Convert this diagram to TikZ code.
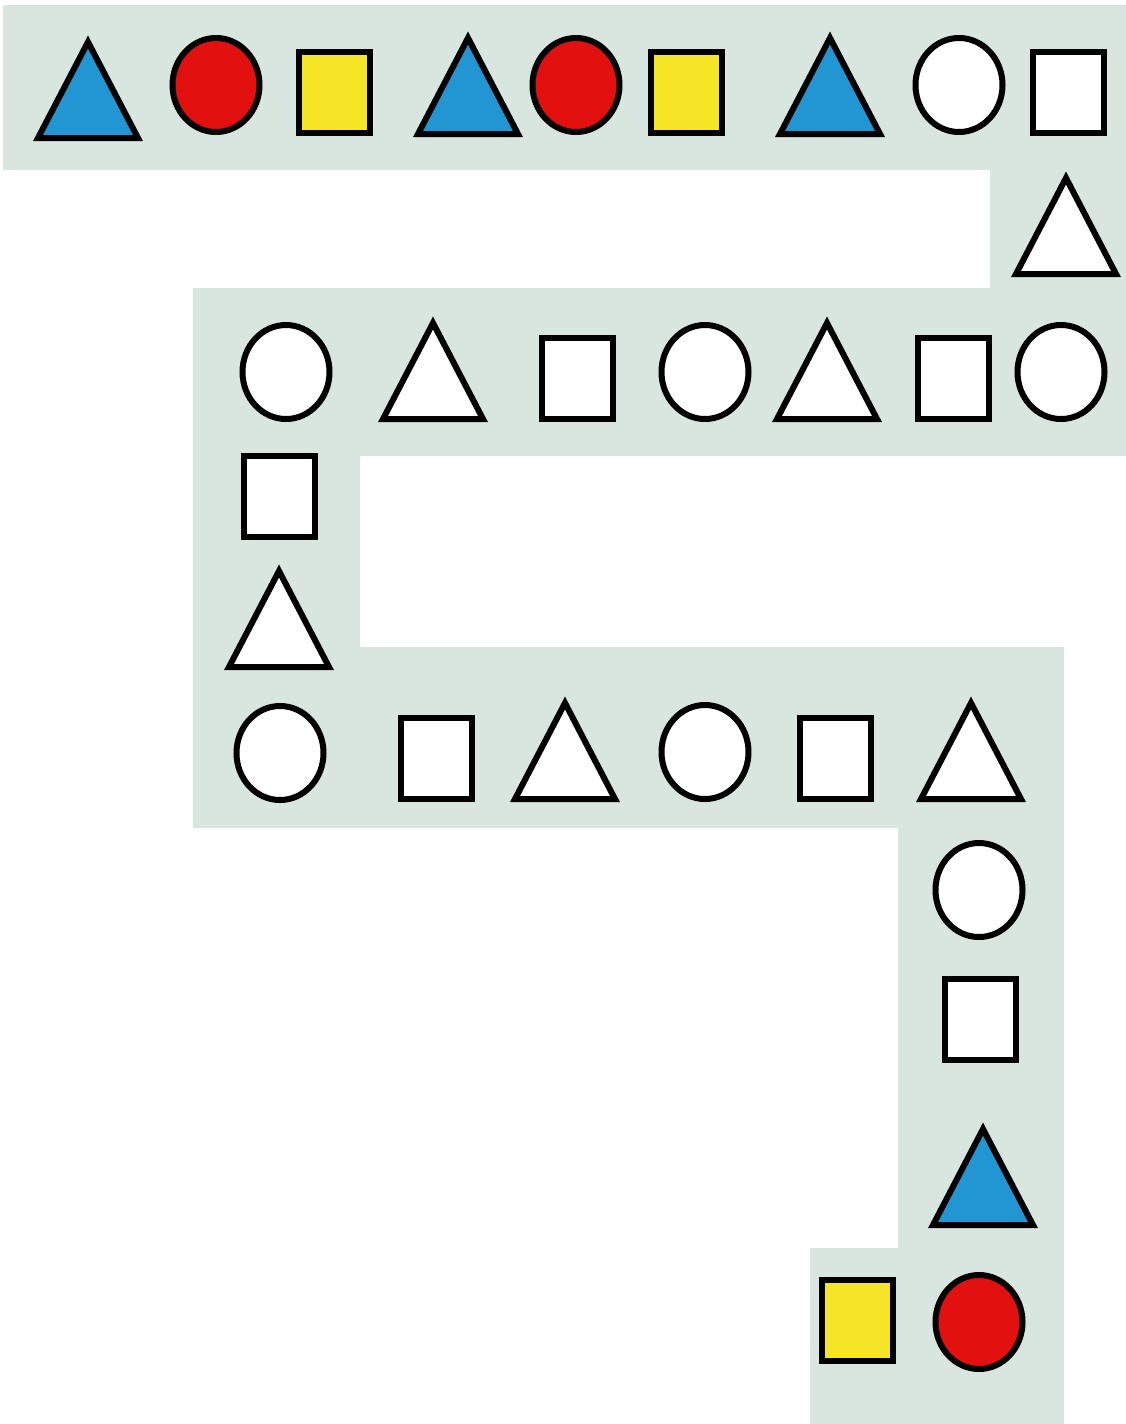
\documentclass[tikz,border=0pt]{standalone}
\usepackage{tikz}
\tikzset{
	band/.style={fill=bandGray, draw=none},
	outline/.style={draw=black, line width=6pt, line join=miter},
}

\begin{document}
\begin{tikzpicture}[x=1pt, y=-1pt]
		
		% ---- Colors ----
		\definecolor{bandGray}{RGB}{216,230,223}
		\definecolor{blueT}{RGB}{33,150,211}
		\definecolor{redC}{RGB}{226,16,14}
		\definecolor{yellowS}{RGB}{246,228,38}
		
		\useasboundingbox (0,0) rectangle (1126,1424);
		
		% ---- The winding band ----
		\fill[band] (3,5) -- (1126,5) -- (1126,456) -- (360,456) -- (360,647)
		-- (1064,647) -- (1064,1424) -- (810,1424) -- (810,1248) -- (898,1248)
		-- (898,828) -- (193,828) -- (193,288) -- (990,288) -- (990,170)
		-- (3,170) -- cycle;
		
		% ---- Triangles ----
		\draw[outline, fill=blueT]  (38,138)   -- ++(50,-96) -- ++(50,96) -- cycle;
		\draw[outline, fill=blueT]  (418,134)  -- ++(50,-96) -- ++(50,96) -- cycle;
		\draw[outline, fill=blueT]  (780,134)  -- ++(50,-96) -- ++(50,96) -- cycle;
		\draw[outline, fill=white]  (1016,274) -- ++(50,-96) -- ++(50,96) -- cycle;
		\draw[outline, fill=white]  (383,419)  -- ++(50,-96) -- ++(50,96) -- cycle;
		\draw[outline, fill=white]  (777,419)  -- ++(50,-96) -- ++(50,96) -- cycle;
		\draw[outline, fill=white]  (229,667)  -- ++(50,-96) -- ++(50,96) -- cycle;
		\draw[outline, fill=white]  (515,799)  -- ++(50,-96) -- ++(50,96) -- cycle;
		\draw[outline, fill=white]  (921,799)  -- ++(50,-96) -- ++(50,96) -- cycle;
		\draw[outline, fill=blueT]  (933,1225) -- ++(50,-96) -- ++(50,96) -- cycle;
		
		% ---- Circles ----
		\draw[outline, fill=redC]  (216,85)   ellipse [x radius=43.5pt, y radius=47pt];
		\draw[outline, fill=redC]  (576,85)   ellipse [x radius=43.5pt, y radius=47pt];
		\draw[outline, fill=white] (959,85)   ellipse [x radius=43.5pt, y radius=47pt];
		\draw[outline, fill=white] (286,372)  ellipse [x radius=43.5pt, y radius=47pt];
		\draw[outline, fill=white] (705,372)  ellipse [x radius=43.5pt, y radius=47pt];
		\draw[outline, fill=white] (1061,372) ellipse [x radius=43.5pt, y radius=47pt];
		\draw[outline, fill=white] (280,753)  ellipse [x radius=43.5pt, y radius=47pt];
		\draw[outline, fill=white] (705,752)  ellipse [x radius=43.5pt, y radius=47pt];
		\draw[outline, fill=white] (979,890)  ellipse [x radius=43.5pt, y radius=47pt];
		\draw[outline, fill=redC]  (979,1322) ellipse [x radius=43.5pt, y radius=47pt];
		
		% ---- Squares ----
		\draw[outline, fill=yellowS] (298.5,51.5)   rectangle ++(71,81);
		\draw[outline, fill=yellowS] (650.5,51.5)   rectangle ++(71,81);
		\draw[outline, fill=white]   (1032.5,51.5)  rectangle ++(71,81);
		\draw[outline, fill=white]   (541.5,337.5)  rectangle ++(71,81);
		\draw[outline, fill=white]   (917.5,337.5)  rectangle ++(71,81);
		\draw[outline, fill=white]   (243.5,455.5)  rectangle ++(71,81);
		\draw[outline, fill=white]   (400.5,717.5)  rectangle ++(71,81);
		\draw[outline, fill=white]   (799.5,717.5)  rectangle ++(71,81);
		\draw[outline, fill=white]   (944.5,978.5)  rectangle ++(71,81);
		\draw[outline, fill=yellowS] (821.5,1279.5) rectangle ++(71,81);
		
	\end{tikzpicture}
\end{document}
